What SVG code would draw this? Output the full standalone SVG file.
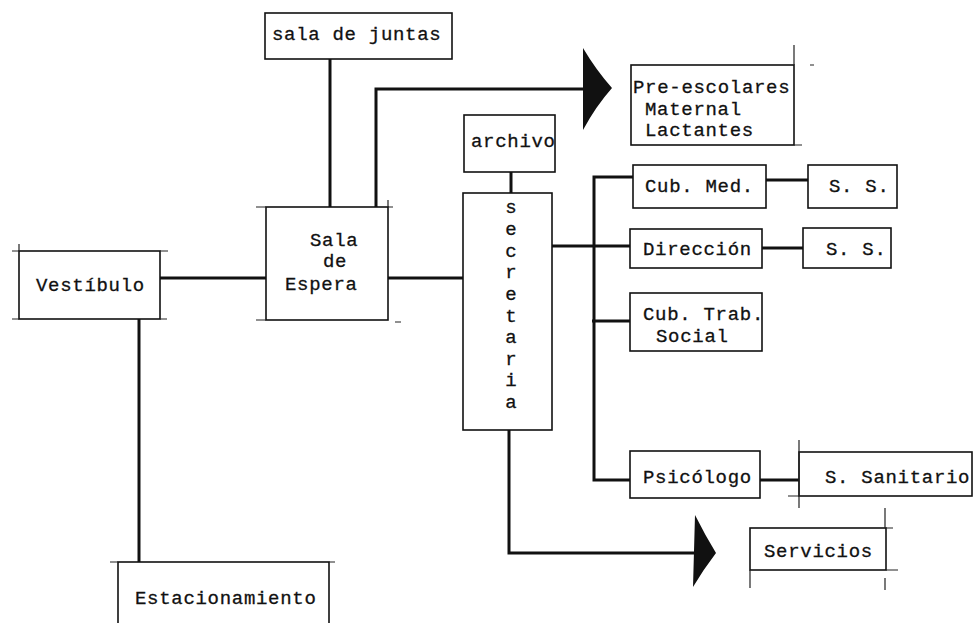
<svg xmlns="http://www.w3.org/2000/svg" width="978" height="623" viewBox="0 0 978 623">
<style>
.box{fill:#fff;stroke:#111;stroke-width:1.6}
.tick{stroke:#222;stroke-width:1.2;fill:none}
.t{font-family:"Liberation Mono","Courier New",monospace;font-size:19px;letter-spacing:0.7px;fill:#111;stroke:#111;stroke-width:0.3}
.c{stroke:#111;stroke-width:3;fill:none}
.ah{fill:#111;stroke:none}
</style>
<rect width="978" height="623" fill="#fff"/>
<g id="connectors">
<path class="c" d="M330 59 V207"/>
<path class="c" d="M376 207 V89 H585"/>
<path class="ah" d="M583 48 Q596 70 612 88 Q596 106 583 130 Z"/>
<path class="c" d="M160 278 H266"/>
<path class="c" d="M388 278 H463"/>
<path class="c" d="M139 319 V562"/>
<path class="c" d="M511 172 V193"/>
<path class="c" d="M552 246 H631"/>
<path class="c" d="M633 177 H594 V480 H631"/>
<path class="c" d="M592 321 H631"/>
<path class="c" d="M766 180 H808"/>
<path class="c" d="M762 248 H803"/>
<path class="c" d="M760 480 H799"/>
<path class="c" d="M509 430 V553 H697"/>
<path class="ah" d="M695 515 Q705 535 716 553 Q703 570 693 587 Z"/>
</g>
<g id="sala-juntas"><rect class="box" x="265" y="13" width="187" height="46"/><text class="t" x="272" y="40">sala de juntas</text></g>
<g id="pre-escolares"><rect class="box" x="631" y="65" width="163" height="80"/><path class="tick" d="M794 45 V65 M810 65 H814 M794 145 H802"/><text class="t" x="633" y="93">Pre-escolares</text><text class="t" x="645" y="115">Maternal</text><text class="t" x="645" y="136">Lactantes</text></g>
<g id="archivo"><rect class="box" x="464" y="115" width="91" height="57"/><text class="t" x="471" y="147">archivo</text></g>
<g id="secretaria"><rect class="box" x="463" y="193" width="89" height="237"/>
<text class="t" text-anchor="middle" style="letter-spacing:0"><tspan x="511" y="213">s</tspan><tspan x="511" y="235">e</tspan><tspan x="511" y="257">c</tspan><tspan x="511" y="278">r</tspan><tspan x="511" y="300">e</tspan><tspan x="511" y="322">t</tspan><tspan x="511" y="343">a</tspan><tspan x="511" y="365">r</tspan><tspan x="511" y="386">i</tspan><tspan x="511" y="408">a</tspan></text></g>
<g id="cub-med"><rect class="box" x="633" y="165" width="133" height="43"/><text class="t" x="645" y="192">Cub. Med.</text></g>
<g id="ss1"><rect class="box" x="808" y="165" width="89" height="43"/><text class="t" x="829" y="192">S. S.</text></g>
<g id="direccion"><rect class="box" x="630" y="229" width="132" height="39"/><text class="t" x="643" y="255">Dirección</text></g>
<g id="ss2"><rect class="box" x="803" y="228" width="88" height="40"/><text class="t" x="826" y="255">S. S.</text></g>
<g id="cub-trab"><rect class="box" x="630" y="293" width="132" height="58"/><text class="t" x="643" y="320">Cub. Trab.</text><text class="t" x="656" y="342">Social</text></g>
<g id="psicologo"><rect class="box" x="630" y="451" width="130" height="47"/><text class="t" x="643" y="483">Psicólogo</text></g>
<g id="s-sanitario"><rect class="box" x="799" y="452" width="173" height="44"/><path class="tick" d="M799 440 V508 M788 496 H799"/><text class="t" x="825" y="483">S. Sanitario</text></g>
<g id="servicios"><rect class="box" x="750" y="528" width="136" height="42"/><path class="tick" d="M885 508 V528 M750 570 V588 M886 570 H898 M886 528 H893 M885 578 V590"/><text class="t" x="764" y="557">Servicios</text></g>
<g id="vestibulo"><rect class="box" x="19" y="251" width="141" height="68"/><path class="tick" d="M12 251 H19 M19 244 V251 M12 319 H19 M160 251 H168 M160 319 H167"/><text class="t" x="36" y="291">Vestíbulo</text></g>
<g id="sala-espera"><rect class="box" x="266" y="207" width="122" height="113"/><path class="tick" d="M256 207 H266 M388 207 H393 M388 200 V207 M256 320 H266 M395 322 H401"/><text class="t" x="310" y="246">Sala</text><text class="t" x="323" y="267">de</text><text class="t" x="285" y="290">Espera</text></g>
<g id="estacionamiento"><rect class="box" x="118" y="562" width="211" height="80"/><path class="tick" d="M110 562 H118 M329 562 H335"/><text class="t" x="135" y="604">Estacionamiento</text></g>
</svg>
